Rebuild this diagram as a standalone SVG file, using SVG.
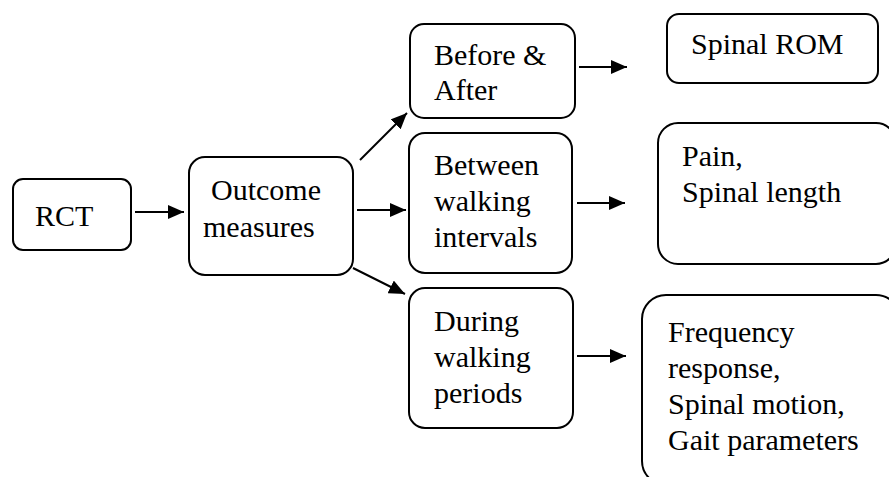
<svg xmlns="http://www.w3.org/2000/svg" width="889" height="477" viewBox="0 0 889 477">
  <style>
    .box { fill: #ffffff; stroke: #000000; stroke-width: 2; }
    .lbl { font-family: "Liberation Serif", "Times New Roman", serif; font-size: 30px; fill: #000000; }
    .arrow { stroke: #000000; stroke-width: 2; fill: none; marker-end: url(#head); }
  </style>
  <defs>
    <marker id="head" markerUnits="userSpaceOnUse" markerWidth="16" markerHeight="14" refX="16" refY="7" orient="auto">
      <path d="M0,0 L16,7 L0,14 z" fill="#000000"/>
    </marker>
  </defs>
  <rect width="889" height="477" fill="#ffffff"/>

  <!-- arrows between the boxes -->
  <g id="connectors">
    <line class="arrow" x1="135" y1="212" x2="184" y2="212"/>
    <line class="arrow" x1="360" y1="160" x2="407" y2="113"/>
    <line class="arrow" x1="357" y1="210" x2="406" y2="210"/>
    <line class="arrow" x1="353" y1="268" x2="405" y2="294"/>
    <line class="arrow" x1="579" y1="67" x2="627" y2="67"/>
    <line class="arrow" x1="577" y1="203" x2="625" y2="203"/>
    <line class="arrow" x1="577" y1="356" x2="626" y2="356"/>
  </g>

  <g id="rct">
    <rect class="box" x="13" y="179" width="118" height="71" rx="10"/>
    <text class="lbl" x="35" y="226">RCT</text>
  </g>

  <g id="outcome">
    <rect class="box" x="189" y="157" width="164" height="118" rx="16"/>
    <text class="lbl" x="211" y="200">Outcome</text>
    <text class="lbl" x="203" y="237">measures</text>
  </g>

  <g id="before-after">
    <rect class="box" x="410" y="24" width="165" height="94" rx="14"/>
    <text class="lbl" x="434" y="65">Before &amp;</text>
    <text class="lbl" x="434" y="100">After</text>
  </g>

  <g id="between">
    <rect class="box" x="409" y="133" width="163" height="140" rx="16"/>
    <text class="lbl" x="434" y="175">Between</text>
    <text class="lbl" x="434" y="211">walking</text>
    <text class="lbl" x="434" y="247">intervals</text>
  </g>

  <g id="during">
    <rect class="box" x="409" y="288" width="164" height="140" rx="16"/>
    <text class="lbl" x="434" y="331">During</text>
    <text class="lbl" x="434" y="367">walking</text>
    <text class="lbl" x="434" y="403">periods</text>
  </g>

  <g id="spinal-rom">
    <rect class="box" x="667" y="14" width="211" height="69" rx="12"/>
    <text class="lbl" x="691" y="54">Spinal ROM</text>
  </g>

  <g id="pain">
    <rect class="box" x="658" y="123" width="238" height="141" rx="20"/>
    <text class="lbl" x="682" y="166">Pain,</text>
    <text class="lbl" x="682" y="202">Spinal length</text>
  </g>

  <g id="frequency">
    <rect class="box" x="642" y="295" width="258" height="190" rx="24"/>
    <text class="lbl" x="668" y="342">Frequency</text>
    <text class="lbl" x="668" y="378">response,</text>
    <text class="lbl" x="668" y="414">Spinal motion,</text>
    <text class="lbl" x="668" y="450">Gait parameters</text>
  </g>
</svg>
